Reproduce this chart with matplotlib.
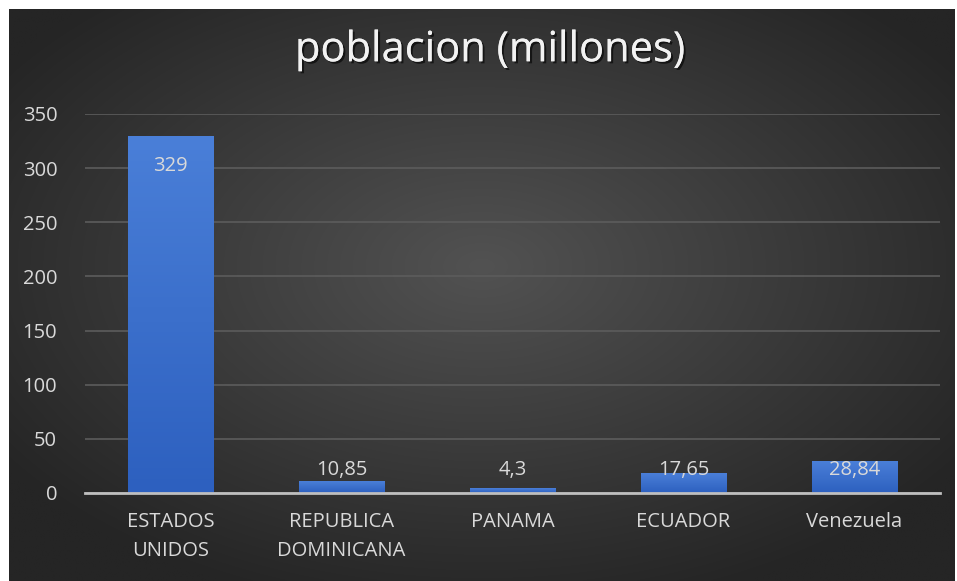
import matplotlib
matplotlib.use('Agg')
import matplotlib.pyplot as plt
import matplotlib.patheffects as pe
import numpy as np

# Data
paises = ['ESTADOS\nUNIDOS', 'REPUBLICA\nDOMINICANA', 'PANAMA', 'ECUADOR', 'Venezuela']
poblacion = [329, 10.85, 4.3, 17.65, 28.84]
etiquetas = ['329', '10,85', '4,3', '17,65', '28,84']
yticks = [0, 50, 100, 150, 200, 250, 300, 350]

plt.rcParams['font.family'] = ['Open Sans', 'DejaVu Sans']
text_col = '#d9d9d9'

W, H = 957, 581
fig = plt.figure(figsize=(W / 100, H / 100), dpi=100)
fig.patch.set_facecolor('white')

# dark radial gradient background
bg = fig.add_axes([9 / W, 0, (954 - 9) / W, (H - 9) / H])
bg.axis('off')
yy, xx = np.mgrid[-1:1:300j, -1:1:500j]
r = np.sqrt(xx ** 2 + (yy + 0.1) ** 2) / np.sqrt(2)
lo = np.array([0x25, 0x25, 0x25]) / 255
hi = np.array([0x52, 0x52, 0x52]) / 255
t = np.clip(r * 1.15, 0, 1)[..., None]
img = hi * (1 - t) + lo * t
bg.imshow(img, aspect='auto', extent=[0, 1, 0, 1], interpolation='bilinear')
bg.set_xlim(0, 1)
bg.set_ylim(0, 1)

ax = fig.add_axes([85 / W, (H - 493) / H, 855 / W, (493 - 114) / H])
ax.set_facecolor('none')
x = np.arange(len(paises))
bars = ax.bar(x, poblacion, width=0.5, color='#3a6fcf', zorder=3)

# vertical gradient on each bar
grad = np.linspace(0, 1, 100)[:, None]
cmap = matplotlib.colors.LinearSegmentedColormap.from_list('b', ['#2d60bf', '#4a7fd8'])
for b in bars:
    x0, w, h = b.get_x(), b.get_width(), b.get_height()
    ax.imshow(grad, cmap=cmap, aspect='auto', origin='lower',
              extent=[x0, x0 + w, 0, h], zorder=4)
ax.set_xlim(-0.5, len(paises) - 0.5)
ax.set_ylim(0, 350)

ax.set_yticks(yticks)
ax.grid(axis='y', color='#5c5c5c', linewidth=1.2, zorder=0)
ax.set_axisbelow(True)
for s in ['top', 'right', 'left']:
    ax.spines[s].set_visible(False)
ax.spines['bottom'].set_color('#bfbfbf')
ax.spines['bottom'].set_linewidth(2)
ax.spines['bottom'].set_zorder(5)
ax.tick_params(axis='both', length=0, colors=text_col, labelsize=14.5)
ax.tick_params(axis='y', pad=20)
ax.tick_params(axis='x', pad=14)
ax.set_xticks(x)
ax.set_xticklabels(paises, linespacing=1.6)

# data labels (Excel pushes small bar labels up)
for xi, v, lab in zip(x, poblacion, etiquetas):
    ypos = max(v - 27, 21)
    ax.text(xi, ypos, lab, ha='center', va='center', color=text_col,
            fontsize=14.5, zorder=6)

fig.text(490 / W, 1 - 50 / H, 'poblacion (millones)', ha='center', va='center',
         color='#f2f2f2', fontsize=30, fontweight='medium',
         path_effects=[pe.withSimplePatchShadow(offset=(1.5, -1.5), shadow_rgbFace='black', alpha=0.6),
                       pe.Normal()])

fig.savefig('out.png', dpi=100, facecolor='white')
